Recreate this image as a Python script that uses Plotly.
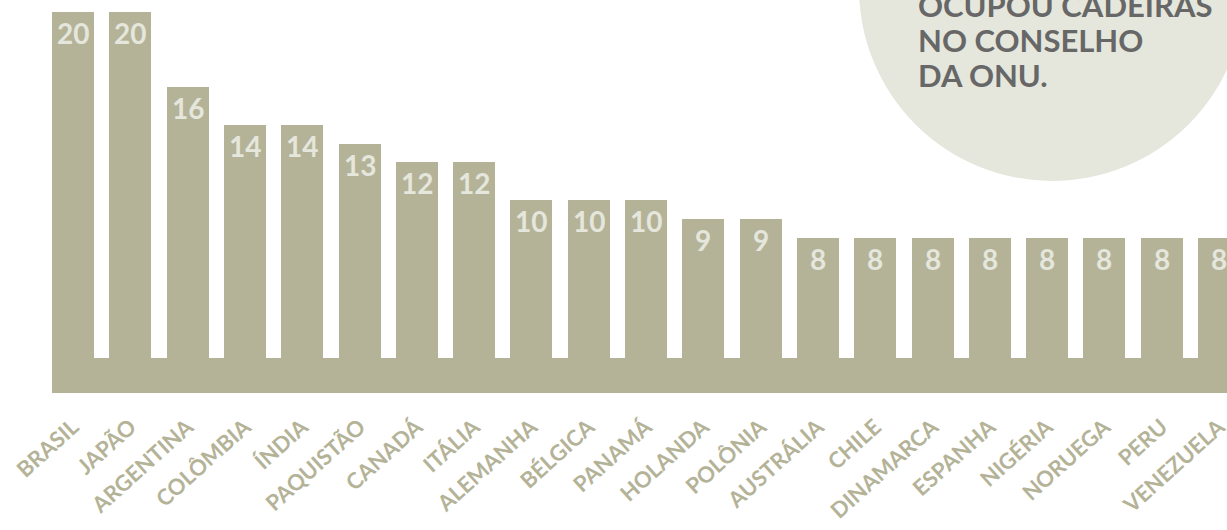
import plotly.graph_objects as go

countries = ["BRASIL", "JAPÃO", "ARGENTINA", "COLÔMBIA", "ÍNDIA", "PAQUISTÃO", "CANADÁ",
             "ITÁLIA", "ALEMANHA", "BÉLGICA", "PANAMÁ", "HOLANDA", "POLÔNIA", "AUSTRÁLIA",
             "CHILE", "DINAMARCA", "ESPANHA", "NIGÉRIA", "NORUEGA", "PERU", "VENEZUELA"]
seats = [20, 20, 16, 14, 14, 13, 12, 12, 10, 10, 10, 9, 9, 8, 8, 8, 8, 8, 8, 8, 8]
note_lines = ["OCUPOU CADEIRAS", "NO CONSELHO", "DA ONU."]

BAR = "#b4b398"
LIGHT = "#e5e6dc"
DARK = "#676767"
W, H = 1227, 530
PLOT_H = 393
BAR_W = 0.733
BASE_TOP = 1.62

n = len(countries)
xs = list(range(n))

fig = go.Figure()
fig.add_trace(go.Bar(
    x=xs, y=seats, width=BAR_W, marker=dict(color=BAR, line=dict(width=0)),
    hoverinfo="skip", showlegend=False,
))

# base strip
fig.add_shape(type="rect", xref="x", yref="y", x0=-BAR_W / 2, x1=n - 1 + BAR_W / 2 + 1,
              y0=-1, y1=BASE_TOP, fillcolor=BAR, line=dict(width=0), layer="above")

# value labels
for x, v in zip(xs, seats):
    fig.add_annotation(x=x, y=v, text=str(v), showarrow=False, yanchor="top", xanchor="center",
                       yshift=-2, font=dict(family="Lato", size=28, color=LIGHT, weight="bold"))

# circle (pixel-based placement converted to paper coords)
cx, cy, r = 1052, -12, 193
fig.add_shape(type="circle", xref="paper", yref="paper",
              x0=(cx - r) / W, x1=(cx + r) / W,
              y0=1 - (cy + r) / PLOT_H, y1=1 - (cy - r) / PLOT_H,
              fillcolor=LIGHT, line=dict(width=0), layer="below")

for i, line in enumerate(note_lines):
    baseline_px = 17 + 35 * i
    fig.add_annotation(xref="paper", yref="paper", x=917 / W, y=1 - (baseline_px - 12) / PLOT_H,
                       text=line, showarrow=False, xanchor="left", yanchor="middle",
                       height=30, valign="middle", borderpad=0,
                       font=dict(family="Lato", size=31, color=DARK, weight="bold"))

pitch = (1198 - 52) / 20
fig.update_layout(
    width=W, height=H,
    margin=dict(l=0, r=0, t=0, b=H - PLOT_H, pad=0, autoexpand=False),
    paper_bgcolor="white", plot_bgcolor="white",
    bargap=0,
    xaxis=dict(range=[-73 / pitch, (W - 73) / pitch], tickvals=xs, ticktext=countries,
               tickangle=-42, showgrid=False, zeroline=False, showline=False, ticks="",
               ticklabeloverflow="allow", ticklabelstandoff=16, automargin=False,
               tickfont=dict(family="Lato", size=22, color=BAR, weight="bold"),
               fixedrange=True),
    yaxis=dict(range=[-0.233, 20.62], visible=False, fixedrange=True, automargin=False),
)

fig.write_html("out.html", config={"displayModeBar": False})
